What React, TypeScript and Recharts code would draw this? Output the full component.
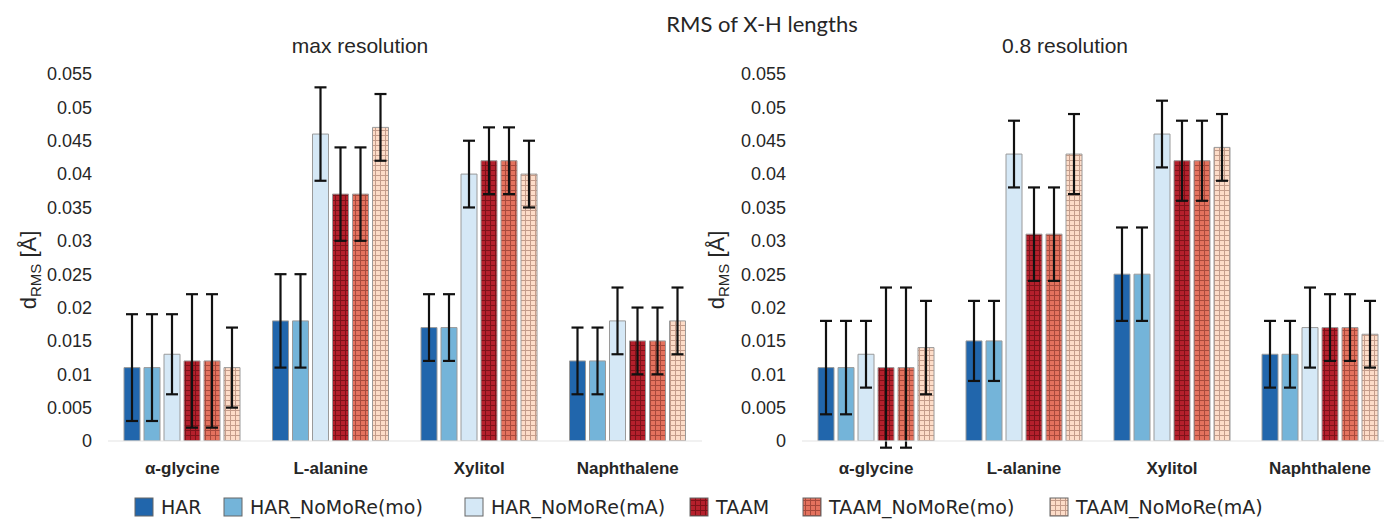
import React from 'react'
import { BarChart, Bar, XAxis, YAxis, ErrorBar } from 'recharts'

const categories = ['α-glycine', 'L-alanine', 'Xylitol', 'Naphthalene']
const seriesNames = ['HAR', 'HAR_NoMoRe(mo)', 'HAR_NoMoRe(mA)', 'TAAM', 'TAAM_NoMoRe(mo)', 'TAAM_NoMoRe(mA)']
const yTicks = [0, 0.005, 0.01, 0.015, 0.02, 0.025, 0.03, 0.035, 0.04, 0.045, 0.05, 0.055]

// max resolution: one array per series, values by category
const maxHAR = [0.011, 0.018, 0.017, 0.012]
const maxHARmo = [0.011, 0.018, 0.017, 0.012]
const maxHARmA = [0.013, 0.046, 0.04, 0.018]
const maxTAAM = [0.012, 0.037, 0.042, 0.015]
const maxTAAMmo = [0.012, 0.037, 0.042, 0.015]
const maxTAAMmA = [0.011, 0.047, 0.04, 0.018]

const maxHARerr = [0.008, 0.007, 0.005, 0.005]
const maxHARmoErr = [0.008, 0.007, 0.005, 0.005]
const maxHARmAerr = [0.006, 0.007, 0.005, 0.005]
const maxTAAMerr = [0.01, 0.007, 0.005, 0.005]
const maxTAAMmoErr = [0.01, 0.007, 0.005, 0.005]
const maxTAAMmAerr = [0.006, 0.005, 0.005, 0.005]

// 0.8 resolution
const lowHAR = [0.011, 0.015, 0.025, 0.013]
const lowHARmo = [0.011, 0.015, 0.025, 0.013]
const lowHARmA = [0.013, 0.043, 0.046, 0.017]
const lowTAAM = [0.011, 0.031, 0.042, 0.017]
const lowTAAMmo = [0.011, 0.031, 0.042, 0.017]
const lowTAAMmA = [0.014, 0.043, 0.044, 0.016]

const lowHARerr = [0.007, 0.006, 0.007, 0.005]
const lowHARmoErr = [0.007, 0.006, 0.007, 0.005]
const lowHARmAerr = [0.005, 0.005, 0.005, 0.006]
const lowTAAMerr = [0.012, 0.007, 0.006, 0.005]
const lowTAAMmoErr = [0.012, 0.007, 0.006, 0.005]
const lowTAAMmAerr = [0.007, 0.006, 0.005, 0.005]

const maxValues = [maxHAR, maxHARmo, maxHARmA, maxTAAM, maxTAAMmo, maxTAAMmA]
const maxErrors = [maxHARerr, maxHARmoErr, maxHARmAerr, maxTAAMerr, maxTAAMmoErr, maxTAAMmAerr]
const lowValues = [lowHAR, lowHARmo, lowHARmA, lowTAAM, lowTAAMmo, lowTAAMmA]
const lowErrors = [lowHARerr, lowHARmoErr, lowHARmAerr, lowTAAMerr, lowTAAMmoErr, lowTAAMmAerr]

const FILLS = ['#2166ac', '#74b4d9', '#d5e8f6', 'url(#pTAAM)', 'url(#pTAAMmo)', 'url(#pTAAMmA)']
const LEGEND_X = [135, 224, 465, 690, 803, 1050]

function buildRows(values: number[][], errors: number[][]) {
  return categories.map((c, i) => {
    const row: Record<string, number | string> = { name: c }
    seriesNames.forEach((s, k) => {
      row['s' + k] = values[k][i]
      row['e' + k] = errors[k][i]
    })
    return row
  })
}

const maxRows = buildRows(maxValues, maxErrors)
const lowRows = buildRows(lowValues, lowErrors)

const fmt = (v: number) => String(Number(v.toFixed(3)))

function Patterns() {
  const defs = [
    ['pTAAM', '#b5202c', '#7e1219'],
    ['pTAAMmo', '#e4725e', '#a84a3c'],
    ['pTAAMmA', '#fddcc8', '#c49c8a'],
  ]
  return (
    <defs>
      {defs.map(([id, base, line]) => (
        <pattern key={id} id={id} width={5} height={5} patternUnits="userSpaceOnUse">
          <rect width={5} height={5} fill={base} />
          <path d="M0 0.5 H5 M0.5 0 V5" stroke={line} strokeWidth={1} />
        </pattern>
      ))}
    </defs>
  )
}

function Panel({ rows, width, right }: { rows: Record<string, number | string>[]; width: number; right: number }) {
  return (
    <BarChart
      width={width}
      height={490}
      data={rows}
      margin={{ top: 74, right, bottom: 0, left: 0 }}
      barSize={16}
      barGap={4}
    >
      <Patterns />
      <XAxis
        dataKey="name"
        height={49}
        tickLine={false}
        axisLine={{ stroke: '#e3e3e3' }}
        tickMargin={15}
        tick={{ fontSize: 17, fontWeight: 700, fill: '#262626' }}
        interval={0}
      />
      <YAxis
        width={108}
        domain={[0, 0.055]}
        allowDataOverflow
        ticks={yTicks}
        interval={0}
        tickFormatter={fmt}
        tickLine={false}
        axisLine={false}
        tickMargin={10}
        tick={{ fontSize: 18, fill: '#262626' }}
      />
      {seriesNames.map((s, k) => (
        <Bar key={s} dataKey={'s' + k} name={s} fill={FILLS[k]} stroke="#9a9a9a" strokeWidth={1} isAnimationActive={false}>
          <ErrorBar dataKey={'e' + k} width={6} strokeWidth={2.2} stroke="#111" direction="y" />
        </Bar>
      ))}
    </BarChart>
  )
}

function YLabel({ x, y }: { x: number; y: number }) {
  return (
    <text transform={`rotate(-90 ${x} ${y})`} x={x} y={y} textAnchor="middle" fontSize={22} fill="#262626">
      <tspan>d</tspan>
      <tspan fontSize={15} dy={5}>RMS</tspan>
      <tspan dy={-5}> [Å]</tspan>
    </text>
  )
}

export default function App() {
  return (
    <div
      style={{
        position: 'absolute',
        left: 0,
        top: 0,
        width: 1384,
        height: 520,
        overflow: 'hidden',
        background: '#fff',
        fontFamily: '"Liberation Sans", Arial, sans-serif',
      }}
    >
      <div style={{ position: 'absolute', left: 0, top: 0 }}>
        <Panel rows={maxRows} width={720} right={18} />
      </div>
      <div style={{ position: 'absolute', left: 694, top: 0 }}>
        <Panel rows={lowRows} width={700} right={0} />
      </div>
      <svg width={1384} height={520} style={{ position: 'absolute', left: 0, top: 0, pointerEvents: 'none' }}>
        <text x={762} y={32} textAnchor="middle" fontSize={22} fontFamily="Lato, sans-serif" fill="#262626">
          RMS of X-H lengths
        </text>
        <text x={360} y={53} textAnchor="middle" fontSize={21} fill="#262626">
          max resolution
        </text>
        <text x={1065} y={53} textAnchor="middle" fontSize={21} fill="#262626">
          0.8 resolution
        </text>
        <YLabel x={36} y={270} />
        <YLabel x={724} y={270} />
        <Patterns />
        {seriesNames.map((s, k) => (
          <g key={s}>
            <rect x={LEGEND_X[k]} y={498} width={18} height={18} fill={FILLS[k]} stroke="#666" strokeWidth={1} />
            <text x={LEGEND_X[k] + 26} y={514} fontSize={19} fontFamily="'DejaVu Sans', sans-serif" fill="#262626">
              {s}
            </text>
          </g>
        ))}
      </svg>
    </div>
  )
}
